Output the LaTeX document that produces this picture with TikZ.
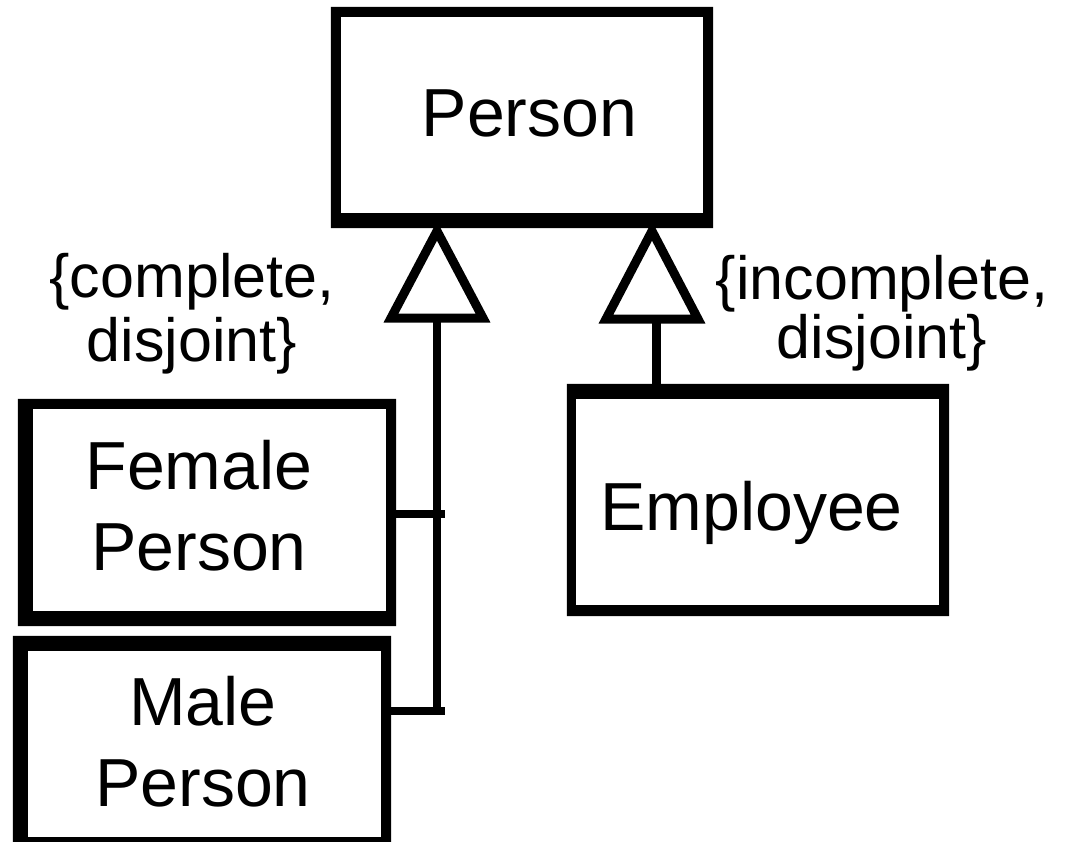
\documentclass[tikz,border=0pt]{standalone}
\usepackage{fontspec}
\setmainfont{Liberation Sans}
\begin{document}
\begin{tikzpicture}[x=1pt,y=-1pt,
  classbox/.style={shape=rectangle, inner sep=0pt, draw=none},
  frame/.style={fill=black, even odd rule},
  boxtext/.style={font=\fontsize{68}{81}\selectfont, inner sep=0pt, align=center},
  constraint/.style={font=\fontsize{61}{#1}\selectfont, inner sep=0pt, align=center, anchor=north},
  gen/.style={draw=black, line width=9pt, line join=miter, fill=white},
  link/.style={line width=8pt, line cap=rect},
  stem/.style={line width=8pt, line cap=butt}
]
\useasboundingbox (0,0) rectangle (1070,842);
\fill[white] (0,0) rectangle (1070,842);

% class boxes (geometry)
\node[classbox, minimum width=382pt, minimum height=221pt] (person) at (522,117.5) {};
\node[classbox, minimum width=378pt, minimum height=227pt] (female) at (207,512.5) {};
\node[classbox, minimum width=378pt, minimum height=206pt] (male) at (202,739) {};
\node[classbox, minimum width=382pt, minimum height=232pt] (employee) at (758,500) {};

% thick frames (uneven border widths as in the picture)
\fill[frame] (person.north west) rectangle (person.south east)
  ([shift={(10,10)}]person.north west) rectangle ([shift={(-10,-15)}]person.south east);
\fill[frame] (female.north west) rectangle (female.south east)
  ([shift={(15,10)}]female.north west) rectangle ([shift={(-10,-15)}]female.south east);
\fill[frame] (male.north west) rectangle (male.south east)
  ([shift={(15,15)}]male.north west) rectangle ([shift={(-10,-5)}]male.south east);
\fill[frame] (employee.north west) rectangle (employee.south east)
  ([shift={(9,15)}]employee.north west) rectangle ([shift={(-10,-11)}]employee.south east);

% box texts
\node[boxtext, anchor=base] (persontext) at (529.5,137) {Person};
\node[boxtext, anchor=north] (femaletext) at (199,440.3) {Female\\Person};
\node[boxtext, anchor=north] (maletext) at (203,676.3) {Male\\Person};
\node[boxtext, anchor=base] (employeetext) at (751.5,530) {Employee};

% constraint labels
\node[constraint=64] (complete) at (192,252.6) {\{complete,\\disjoint\}};
\node[constraint=59] (incomplete) at (882,254.6) {\{incomplete,\\disjoint\}};

% generalization triangles
\coordinate (ltip) at (437,231);
\coordinate (lbase) at (437,318);
\coordinate (rtip) at (652,231);
\coordinate (rbase) at (656,319);
\draw[gen] (ltip) -- (483,318) -- (391,318) -- cycle;
\draw[gen] (rtip) -- (698,319) -- (606,319) -- cycle;

% connectors
\coordinate (fj) at (441,514);
\coordinate (mj) at (441,711);
\draw[stem] ([yshift=4]lbase) -- ([yshift=4]lbase |- mj);
\draw[link] (female.east |- fj) -- (fj);
\draw[link] (male.east |- mj) -- (mj);
\draw[stem, line width=9pt] ([yshift=4]rbase) -- (rbase |- employee.north);
\end{tikzpicture}
\end{document}
